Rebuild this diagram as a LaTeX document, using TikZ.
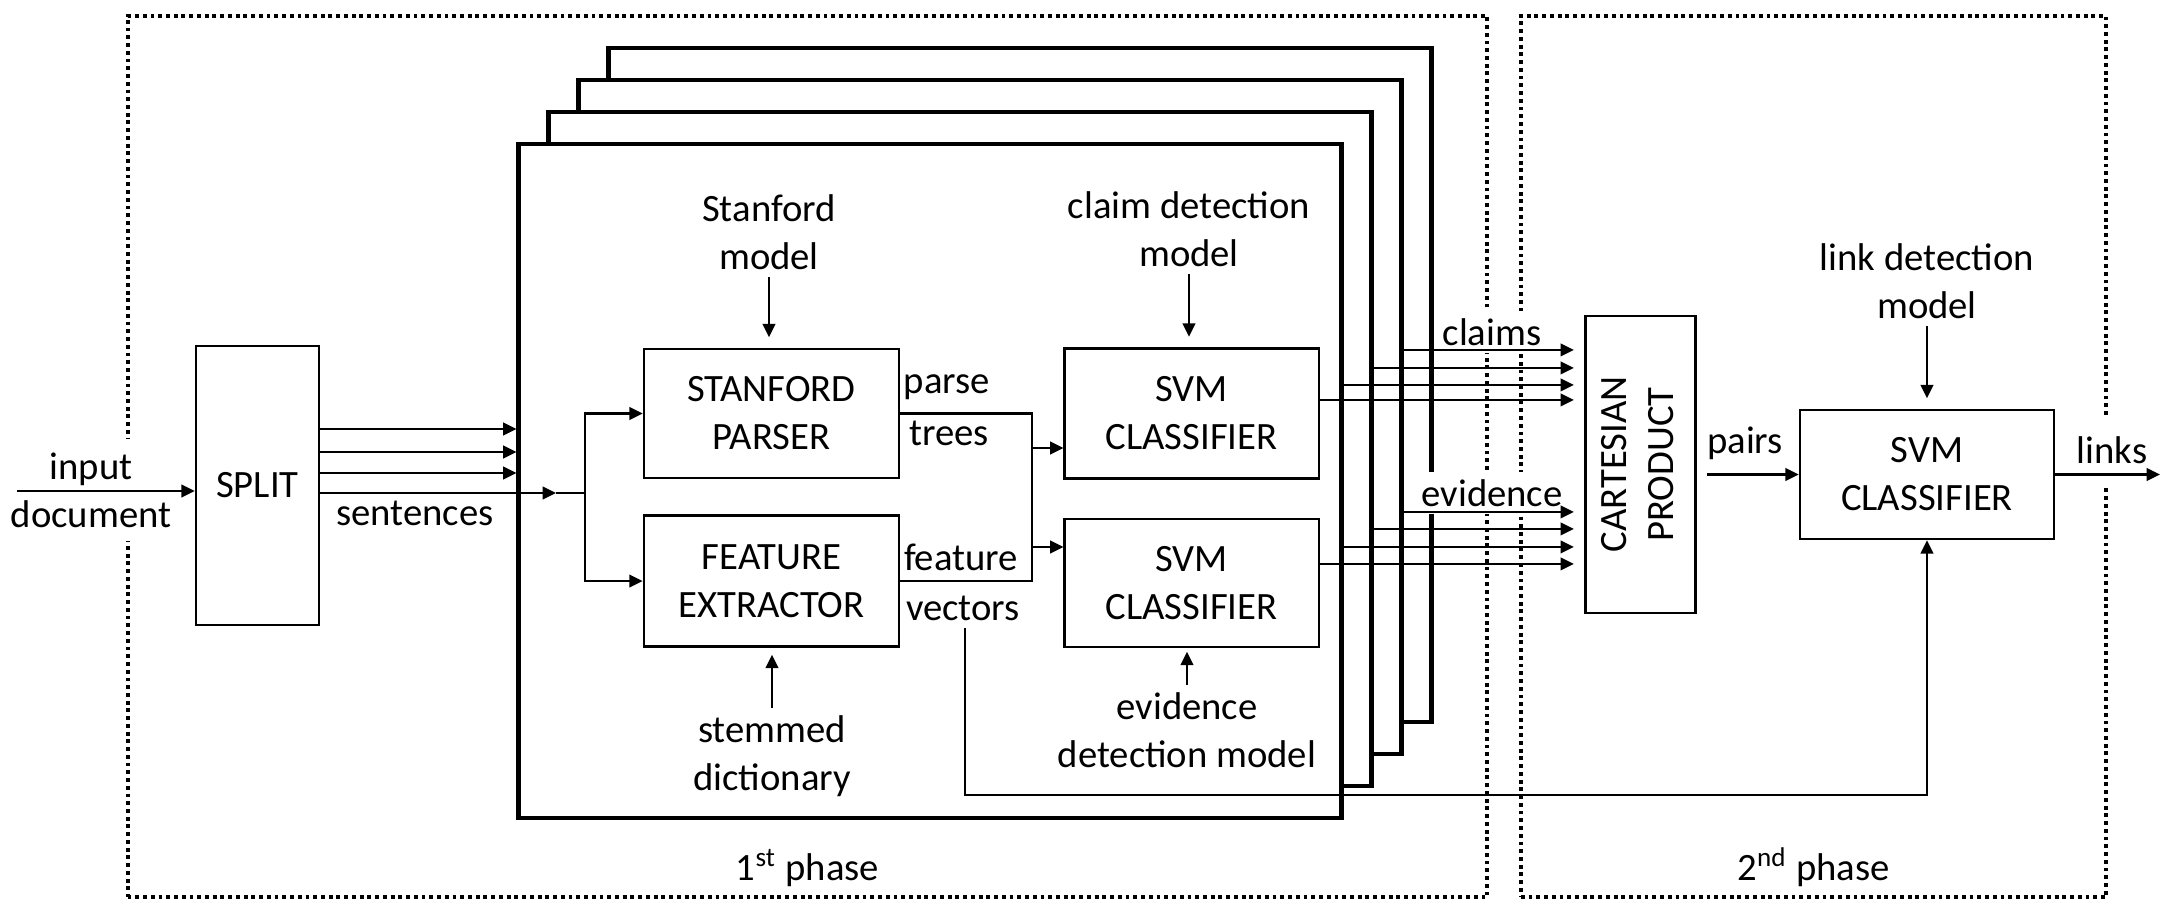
\documentclass[tikz,border=0pt]{standalone}
\usepackage{fontspec}
\setmainfont{Carlito}
\usepackage{graphicx}
\usetikzlibrary{positioning, arrows.meta}

\tikzset{
  blockbox/.style={draw, line width=0.7pt, align=center, minimum width=2.55cm, minimum height=1.29cm, inner sep=2pt},
  tagtext/.style={align=center, inner sep=2pt},
  masked/.style={tagtext, fill=white},
  framebox/.style={draw, line width=1.3pt, fill=white, minimum width=8.22cm, minimum height=6.74cm},
  phasebox/.style={draw, line width=1.1pt, dash pattern=on 1.1pt off 1.1pt, minimum height=8.81cm},
  wire/.style={line width=0.6pt},
}

\begin{document}
\begin{tikzpicture}[x=0.01cm, y=-0.01cm, >={Triangle[length=3.8pt, width=3.6pt]}, font=\fontsize{11}{13.6}\selectfont]
    \useasboundingbox (0,0) rectangle (2168,913);

    % phases
    \node[phasebox, minimum width=13.59cm] (phaseone) at (807.5,456.5) {};
    \node[phasebox, minimum width=5.85cm] (phasetwo) at (1813.5,456.5) {};
    \node (phaseonetag) [above=0pt of phaseone.south] {1\textsuperscript{st} phase};
    \node (phasetwotag) [above=0pt of phasetwo.south] {2\textsuperscript{nd} phase};

    % stacked frames
    \foreach \i in {3,2,1,0}
        \node[framebox] (frame\i) at (930+30*\i, 481-32*\i) {};

    % blocks
    \node[blockbox, minimum width=1.23cm, minimum height=2.79cm] (split) at (257.5,485.5) {SPLIT};
    \node[blockbox] (parser) at (771.5,413.5) {STANFORD\\PARSER};
    \node[blockbox, minimum height=1.31cm] (extractor) [below=0.35cm of parser] {FEATURE\\EXTRACTOR};
    \node[blockbox, minimum width=2.54cm, minimum height=1.30cm] (svmclaim) [right=1.63cm of parser] {SVM\\CLASSIFIER};
    \node[blockbox, minimum width=2.54cm, minimum height=1.28cm] (svmevid) [below=0.38cm of svmclaim] {SVM\\CLASSIFIER};
    \node[blockbox, minimum width=0.93cm, minimum height=2.97cm] (cartesian) at (1640.5,464.5) {\rotatebox{90}{\begin{tabular}{@{}c@{}}CARTESIAN\\PRODUCT\end{tabular}}};
    \node[blockbox, minimum width=2.54cm] (svmlink) at (1927,474.5) {SVM\\CLASSIFIER};

    % texts
    \node[masked, inner sep=4pt] (inputdoc) at (91,490) {input\\document};
    \node[tagtext] (sentences) at (415,513) {sentences};
    \node[tagtext] (stanfordmodel) at (769,232) {Stanford\\model};
    \node[tagtext] (claimmodel) at (1189,229) {claim detection\\model};
    \node[tagtext] (stemmed) at (772,756) {stemmed\\dictionary};
    \node[tagtext] (evidmodel) at (1187,730) {evidence\\detection model};
    \node[tagtext] (parse) at (947,387) {parse};
    \node[tagtext] (trees) at (949,433) {trees};
    \node[tagtext] (feature) at (961,557) {feature};
    \node[tagtext] (vectors) at (963,608) {vectors};
    \node[masked] (claims) at (1492,332) {claims};
    \node[masked] (evidence) at (1492,493) {evidence};
    \node[tagtext] (pairs) at (1745,443) {pairs};
    \node[tagtext] (linkmodel) at (1927,281) {link detection\\model};
    \node[masked, minimum height=0.7cm] (links) at (2112,450) {links};

    % input and sentences
    \coordinate (docin) at (17,491);
    \draw[wire, ->] (docin) -- (docin -| split.west);
    \foreach \y in {429,452,473}
        \draw[wire, ->] (split.east |- 0,\y) -- (frame0.west |- 0,\y);
    \coordinate (fork) at (585,493);
    \coordinate (sentin) at (556,493);
    \draw[wire, ->] (split.east |- fork) -- (sentin);
    \draw[wire] (sentin) -- (fork);
    \draw[wire, ->] (fork) |- (parser.west);
    \draw[wire, ->] (fork) |- (extractor.west);

    % models
    \draw[wire, ->, shorten >=3pt] (stanfordmodel.south) -- (stanfordmodel.south |- parser.north);
    \draw[wire, ->, shorten >=3pt] (claimmodel.south) -- (claimmodel.south |- svmclaim.north);
    \draw[wire, ->, shorten >=2pt] (stemmed.north) -- (stemmed.north |- extractor.south);
    \draw[wire, ->, shorten >=1pt] (evidmodel.north) -- (evidmodel.north |- svmevid.south);
    \draw[wire, ->, shorten >=3pt] (linkmodel.south) -- (linkmodel.south |- svmlink.north);

    % parse trees, feature vectors
    \coordinate (ptin) at (1032,448);
    \coordinate (fvin) at (1032,547);
    \draw[wire] (parser.east) -| (fvin);
    \draw[wire] (extractor.east) -| (fvin);
    \draw[wire, ->] (ptin) -- (ptin -| svmclaim.west);
    \draw[wire, ->] (fvin) -- (fvin -| svmevid.west);

    % claims, evidence
    \foreach \src/\y in {frame2/350, frame1/368, frame0/385, svmclaim/400, frame2/512, frame1/529, frame0/547, svmevid/564}
        \draw[wire, ->, shorten >=3pt] (\src.east |- 0,\y) -- (cartesian.west |- 0,\y);

    % pairs, links
    \draw[wire, ->, shorten <=3pt] (cartesian.east |- svmlink.west) -- (svmlink.west);
    \coordinate (linkout) at (2160,474.5);
    \draw[wire, ->] (svmlink.east) -- (linkout);
    \coordinate (linkbend) at (965,795);
    \draw[wire, ->] (vectors.south -| linkbend) -- (linkbend) -| (svmlink.south);
\end{tikzpicture}
\end{document}
